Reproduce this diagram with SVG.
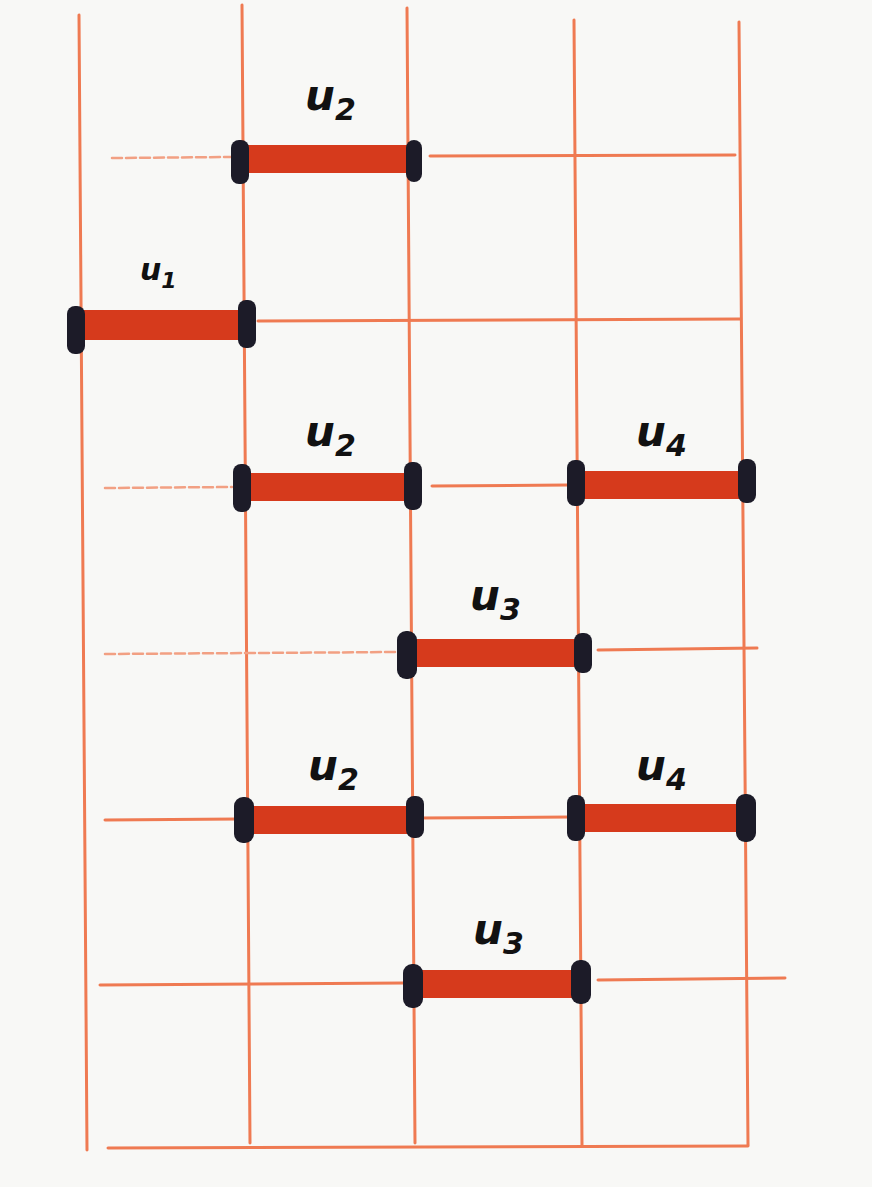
<svg xmlns="http://www.w3.org/2000/svg" width="872" height="1187" viewBox="0 0 872 1187">
<style>
.wire{stroke:#ef7a52;stroke-width:3;fill:none;stroke-linecap:round}
.faint{stroke:#f2a083;stroke-width:2.5;stroke-dasharray:10 4}
.bar{fill:#d63a1c}
.cap{fill:#1c1b28}
.lbl{font-family:"DejaVu Sans","Liberation Sans",sans-serif;font-weight:bold;font-style:italic;font-size:42px;fill:#111}
.sub{font-size:30px}
</style>
<rect width="872" height="1187" fill="#f8f8f6"/>
<g id="connectors">
<line class="wire" x1="79" y1="15" x2="87" y2="1150"/>
<line class="wire" x1="242" y1="5" x2="250" y2="1143"/>
<line class="wire" x1="407" y1="8" x2="415" y2="1143"/>
<line class="wire" x1="574" y1="20" x2="582" y2="1145"/>
<line class="wire" x1="739" y1="22" x2="748" y2="1145"/>
<line class="wire" x1="108" y1="1148" x2="748" y2="1146"/>
<line class="wire faint" x1="112" y1="158" x2="232" y2="157"/>
<line class="wire" x1="430" y1="156" x2="735" y2="155"/>
<line class="wire" x1="258" y1="321" x2="740" y2="319"/>
<line class="wire faint" x1="105" y1="488" x2="232" y2="487"/>
<line class="wire" x1="432" y1="486" x2="568" y2="485"/>
<line class="wire faint" x1="105" y1="654" x2="398" y2="652"/>
<line class="wire" x1="598" y1="650" x2="757" y2="648"/>
<line class="wire" x1="105" y1="820" x2="238" y2="819"/>
<line class="wire" x1="420" y1="818" x2="570" y2="817"/>
<line class="wire" x1="100" y1="985" x2="404" y2="983"/>
<line class="wire" x1="598" y1="980" x2="785" y2="978"/>
</g>
<g id="gate-row1-u2">
<rect class="bar" x="242" y="145" width="170" height="28" rx="4"/>
<rect class="cap" x="231" y="140" width="18" height="44" rx="8"/>
<rect class="cap" x="406" y="140" width="16" height="42" rx="8"/>
<text class="lbl" x="305" y="110">u<tspan class="sub" dy="10">2</tspan></text>
</g>
<g id="gate-row2-u1">
<rect class="bar" x="78" y="310" width="168" height="30" rx="4"/>
<rect class="cap" x="67" y="306" width="18" height="48" rx="8"/>
<rect class="cap" x="238" y="300" width="18" height="48" rx="8"/>
<text class="lbl" x="140" y="280" style="font-size:30px">u<tspan class="sub" dy="8" style="font-size:22px">1</tspan></text>
</g>
<g id="gate-row3-u2">
<rect class="bar" x="244" y="473" width="168" height="28" rx="4"/>
<rect class="cap" x="233" y="464" width="18" height="48" rx="8"/>
<rect class="cap" x="404" y="462" width="18" height="48" rx="8"/>
<text class="lbl" x="305" y="446">u<tspan class="sub" dy="10">2</tspan></text>
</g>
<g id="gate-row3-u4">
<rect class="bar" x="578" y="471" width="168" height="28" rx="4"/>
<rect class="cap" x="567" y="460" width="18" height="46" rx="8"/>
<rect class="cap" x="738" y="459" width="18" height="44" rx="8"/>
<text class="lbl" x="636" y="446">u<tspan class="sub" dy="10">4</tspan></text>
</g>
<g id="gate-row4-u3">
<rect class="bar" x="410" y="639" width="172" height="28" rx="4"/>
<rect class="cap" x="397" y="631" width="20" height="48" rx="9"/>
<rect class="cap" x="574" y="633" width="18" height="40" rx="8"/>
<text class="lbl" x="470" y="610">u<tspan class="sub" dy="10">3</tspan></text>
</g>
<g id="gate-row5-u2">
<rect class="bar" x="246" y="806" width="168" height="28" rx="4"/>
<rect class="cap" x="234" y="797" width="20" height="46" rx="9"/>
<rect class="cap" x="406" y="796" width="18" height="42" rx="8"/>
<text class="lbl" x="308" y="780">u<tspan class="sub" dy="10">2</tspan></text>
</g>
<g id="gate-row5-u4">
<rect class="bar" x="578" y="804" width="168" height="28" rx="4"/>
<rect class="cap" x="567" y="795" width="18" height="46" rx="8"/>
<rect class="cap" x="736" y="794" width="20" height="48" rx="9"/>
<text class="lbl" x="636" y="780">u<tspan class="sub" dy="10">4</tspan></text>
</g>
<g id="gate-row6-u3">
<rect class="bar" x="414" y="970" width="166" height="28" rx="4"/>
<rect class="cap" x="403" y="964" width="20" height="44" rx="9"/>
<rect class="cap" x="571" y="960" width="20" height="44" rx="9"/>
<text class="lbl" x="473" y="944">u<tspan class="sub" dy="10">3</tspan></text>
</g>
</svg>
